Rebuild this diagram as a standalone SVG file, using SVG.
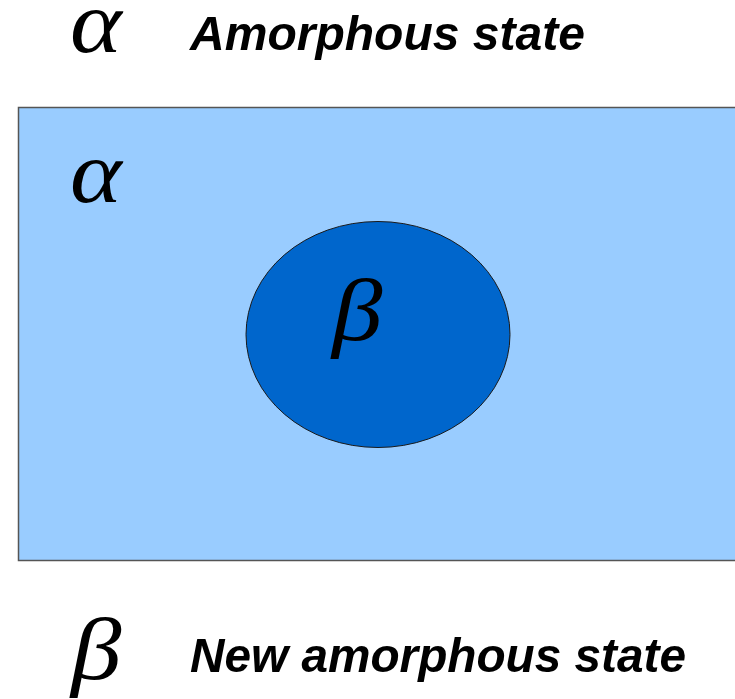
<svg xmlns="http://www.w3.org/2000/svg" width="735" height="699" viewBox="0 0 735 699">
<style>
.greek{font-family:"Liberation Serif","DejaVu Serif",serif;font-style:italic;font-size:88px;fill:#000}
.label{font-family:"Liberation Sans",Arial,sans-serif;font-style:italic;font-weight:bold;font-size:49px;fill:#000}
</style>
<rect x="0" y="0" width="735" height="699" fill="#ffffff"/>
<g id="legend-alpha">
<text class="greek" transform="translate(70,52) scale(1.12,1)">α</text>
<text class="label" x="190" y="50" textLength="395" lengthAdjust="spacingAndGlyphs">Amorphous state</text>
</g>
<g id="region-alpha">
<rect x="18.5" y="107.5" width="740" height="453" fill="#99CCFF" stroke="#555555" stroke-width="1.5"/>
<text class="greek" transform="translate(70,202) scale(1.12,1)">α</text>
</g>
<g id="region-beta">
<ellipse cx="378" cy="334.5" rx="132" ry="113" fill="#0066CC" stroke="#1a1a1a" stroke-width="1"/>
<text class="greek" transform="translate(332,340) scale(1.15,1)">β</text>
</g>
<g id="legend-beta">
<text class="greek" transform="translate(71,679) scale(1.15,1)">β</text>
<text class="label" x="190" y="672" textLength="496" lengthAdjust="spacingAndGlyphs">New amorphous state</text>
</g>
<g id="connectors"></g>
</svg>
